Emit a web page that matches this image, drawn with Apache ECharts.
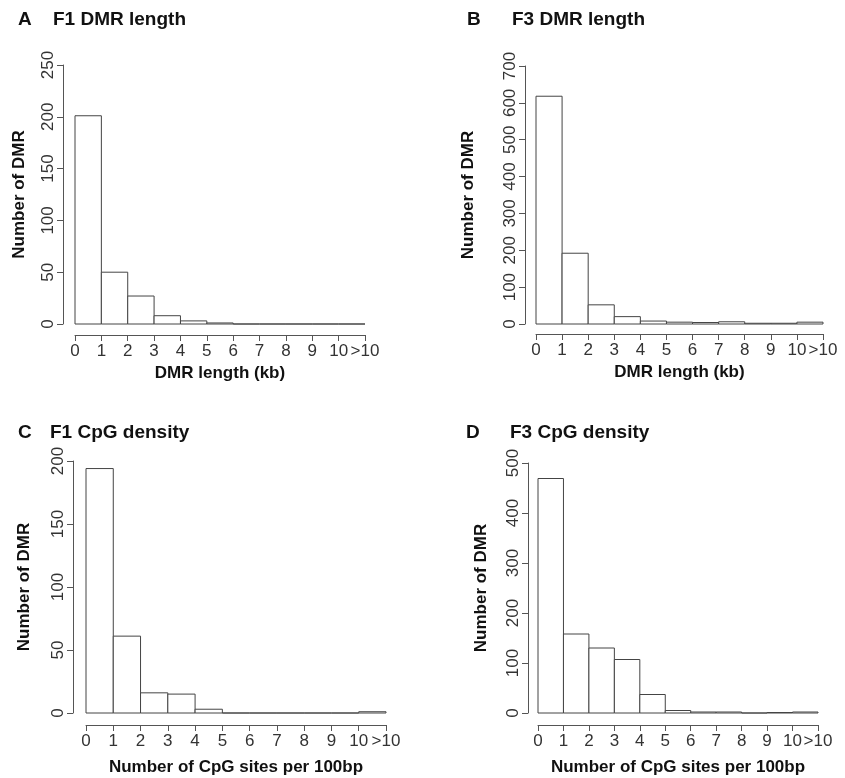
<!DOCTYPE html>
<html>
<head>
<meta charset="utf-8">
<script src="https://cdn.jsdelivr.net/npm/echarts@6/dist/echarts.min.js"></script>
<style>
  html, body { margin: 0; padding: 0; background: #fff; }
  #main { width: 845px; height: 778px; }
</style>
</head>
<body>
<div id="main"></div>
<script>
// bin edges 0..11 (last bin is ">10")
var binEdges = [0, 1, 2, 3, 4, 5, 6, 7, 8, 9, 10, 11];
var tickLabels = ['0', '1', '2', '3', '4', '5', '6', '7', '8', '9', '10', '>10'];

var f1Length = [201, 50, 27, 8, 3, 1, 0, 0, 0, 0, 0];
var f3Length = [618, 192, 52, 20, 8, 5, 4, 6, 2, 2, 5];
var f1Cpg = [194, 61, 16, 15, 3, 0, 0, 0, 0, 0, 1];
var f3Cpg = [469, 158, 130, 107, 37, 5, 2, 2, 0, 1, 2];

var panels = [
  { letter: 'A', title: 'F1 DMR length', xname: 'DMR length (kb)', counts: f1Length, max: 250, step: 50,
    grid: { left: 75, top: 65, width: 290, height: 259 }, yoff: 12, xoff: 11, ygap: 35, xgap: 30,
    lx: 18, tx: 53, ty: 20 },
  { letter: 'B', title: 'F3 DMR length', xname: 'DMR length (kb)', counts: f3Length, max: 700, step: 100,
    grid: { left: 536, top: 66, width: 287, height: 258 }, yoff: 11, xoff: 10, ygap: 48, xgap: 30,
    lx: 467, tx: 512, ty: 20 },
  { letter: 'C', title: 'F1 CpG density', xname: 'Number of CpG sites per 100bp', counts: f1Cpg, max: 200, step: 50,
    grid: { left: 86, top: 461, width: 300, height: 252 }, yoff: 13, xoff: 12, ygap: 40, xgap: 34,
    lx: 18, tx: 50, ty: 433 },
  { letter: 'D', title: 'F3 CpG density', xname: 'Number of CpG sites per 100bp', counts: f3Cpg, max: 500, step: 100,
    grid: { left: 538, top: 463, width: 280, height: 250 }, yoff: 10, xoff: 12, ygap: 38, xgap: 34,
    lx: 466, tx: 510, ty: 433 }
];

var font = 'Liberation Sans, Arial, Helvetica, sans-serif';
var grids = [], xAxes = [], yAxes = [], series = [], graphics = [];

panels.forEach(function (p, i) {
  grids.push(p.grid);
  xAxes.push({
    type: 'value', gridIndex: i, min: 0, max: 11, interval: 1, offset: p.xoff,
    name: p.xname, nameLocation: 'middle', nameGap: p.xgap,
    nameTextStyle: { fontFamily: font, fontSize: 17, fontWeight: 'bold', color: '#111' },
    axisLine: { show: true, onZero: false, lineStyle: { color: '#555', width: 1 } },
    axisTick: { show: true, length: 6, lineStyle: { color: '#555' } },
    axisLabel: { fontFamily: font, fontSize: 17, color: '#333', margin: 8,
      formatter: function (v) { return tickLabels[Math.round(v)]; } },
    splitLine: { show: false }
  });
  yAxes.push({
    type: 'value', gridIndex: i, min: 0, max: p.max, interval: p.step, offset: p.yoff,
    name: 'Number of DMR', nameLocation: 'middle', nameGap: p.ygap, nameRotate: 90,
    nameTextStyle: { fontFamily: font, fontSize: 17, fontWeight: 'bold', color: '#111' },
    axisLine: { show: true, onZero: false, lineStyle: { color: '#555', width: 1 } },
    axisTick: { show: true, length: 6, lineStyle: { color: '#555' } },
    axisLabel: { fontFamily: font, fontSize: 17, color: '#333', margin: 6, rotate: 90 },
    splitLine: { show: false }
  });
  var data = p.counts.map(function (c, k) { return [binEdges[k], binEdges[k + 1], c]; });
  series.push({
    type: 'custom', xAxisIndex: i, yAxisIndex: i, data: data, silent: true,
    renderItem: function (params, api) {
      var a = api.coord([api.value(0), 0]);
      var b = api.coord([api.value(1), api.value(2)]);
      return {
        type: 'rect',
        shape: { x: a[0], y: b[1], width: b[0] - a[0], height: a[1] - b[1] },
        style: { fill: '#fff', stroke: '#444', lineWidth: 1 }
      };
    }
  });
  graphics.push({ type: 'text', left: p.lx, top: p.ty - 10,
    style: { text: p.letter, font: 'bold 19px ' + font, fill: '#111' } });
  graphics.push({ type: 'text', left: p.tx, top: p.ty - 10,
    style: { text: p.title, font: 'bold 19px ' + font, fill: '#111' } });
});

var chart = echarts.init(document.getElementById('main'), null, { renderer: 'canvas' });
chart.setOption({
  backgroundColor: '#fff',
  animation: false,
  grid: grids,
  xAxis: xAxes,
  yAxis: yAxes,
  series: series,
  graphic: graphics
});
</script>
</body>
</html>
